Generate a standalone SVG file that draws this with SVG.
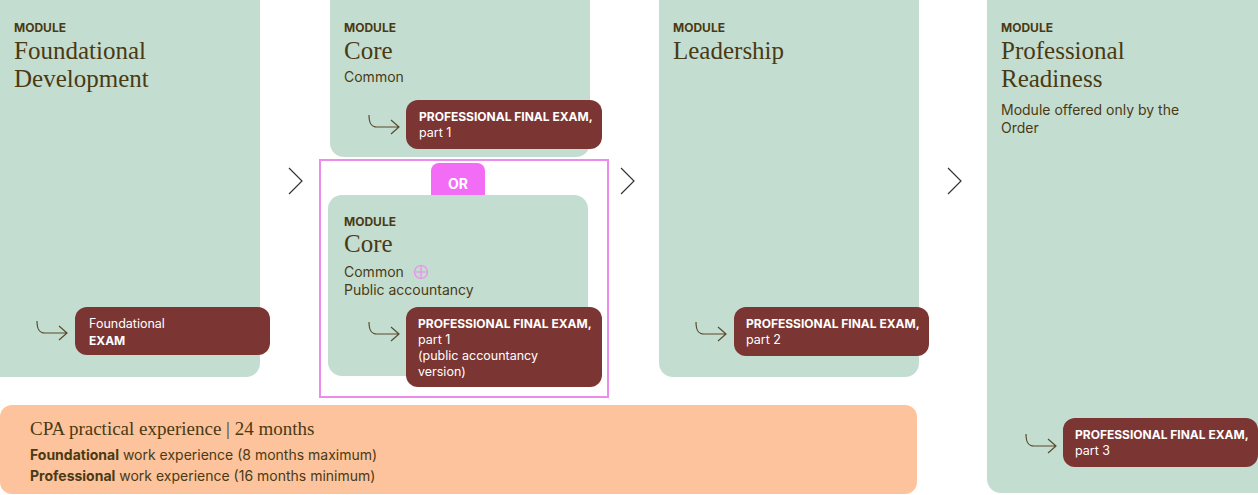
<svg xmlns="http://www.w3.org/2000/svg" width="1258" height="495" viewBox="0 0 1258 495">
<style>
.card{fill:#c4ddd1}
.pill{fill:#7b3533}
.mod{font:700 12px Inter,sans-serif;fill:#4a3a14}
.ttl{font:25px "Liberation Serif",serif;fill:#4a3a14}
.sub{font:14px Inter,sans-serif;fill:#4a3a14}
.pw{font:12.5px Inter,sans-serif;fill:#fff}
.pb{font:700 12px Inter,sans-serif;fill:#fff}
.ar{fill:none;stroke:#5a4a2a;stroke-width:1.2}
.ch{fill:none;stroke:#333;stroke-width:1.2}
</style>
<defs>
<path id="hook" d="M0 0 C0 8 2 12 8 12 H30 M22 5 L30 12 L22 19" class="ar"/>
</defs>
<g id="foundational">
<rect class="card" x="-20" y="-20" width="280" height="397" rx="14"/>
<text class="mod" x="14" y="32">MODULE</text>
<text class="ttl" x="14" y="59">Foundational</text>
<text class="ttl" x="14" y="87">Development</text>
<use href="#hook" x="37" y="321"/>
<rect class="pill" x="75" y="307" width="195" height="48" rx="12"/>
<text class="pw" x="89" y="328">Foundational</text>
<text class="pb" x="89" y="345">EXAM</text>
</g>
<g id="core1">
<rect class="card" x="330" y="-20" width="260" height="177" rx="14"/>
<text class="mod" x="344" y="32">MODULE</text>
<text class="ttl" x="344" y="59">Core</text>
<text class="sub" x="344" y="82">Common</text>
<use href="#hook" x="369" y="115"/>
<rect class="pill" x="406" y="100" width="196" height="49" rx="12"/>
<text class="pb" x="419" y="121">PROFESSIONAL FINAL EXAM,</text>
<text class="pw" x="419" y="137">part 1</text>
</g>
<g id="or-group">
<rect x="320" y="160" width="288" height="237" fill="none" stroke="#ee8cee" stroke-width="2"/>
<rect x="431" y="163" width="54" height="41" rx="8" fill="#f26cf5"/>
<text x="458" y="189" text-anchor="middle" style="font:700 14px Inter,sans-serif;fill:#fff">OR</text>
</g>
<g id="core2">
<rect class="card" x="328" y="195" width="260" height="181" rx="14"/>
<text class="mod" x="344" y="226">MODULE</text>
<text class="ttl" x="344" y="252">Core</text>
<text class="sub" x="344" y="277">Common</text>
<circle cx="421" cy="272" r="6.5" fill="none" stroke="#ee8cee" stroke-width="1.2"/>
<path d="M421 266v12M415 272h12" stroke="#ee8cee" stroke-width="1.2"/>
<text class="sub" x="344" y="295">Public accountancy</text>
<use href="#hook" x="369" y="322"/>
<rect class="pill" x="406" y="307" width="196" height="80" rx="12"/>
<text class="pb" x="418" y="328">PROFESSIONAL FINAL EXAM,</text>
<text class="pw" x="418" y="344">part 1</text>
<text class="pw" x="418" y="360">(public accountancy</text>
<text class="pw" x="418" y="376">version)</text>
</g>
<g id="leadership">
<rect class="card" x="659" y="-20" width="260" height="397" rx="14"/>
<text class="mod" x="673" y="32">MODULE</text>
<text class="ttl" x="673" y="59">Leadership</text>
<use href="#hook" x="696" y="322"/>
<rect class="pill" x="734" y="307" width="195" height="49" rx="12"/>
<text class="pb" x="746" y="328">PROFESSIONAL FINAL EXAM,</text>
<text class="pw" x="746" y="344">part 2</text>
</g>
<g id="readiness">
<rect class="card" x="987" y="-20" width="291" height="513" rx="14"/>
<text class="mod" x="1001" y="32">MODULE</text>
<text class="ttl" x="1001" y="59">Professional</text>
<text class="ttl" x="1001" y="87">Readiness</text>
<text class="sub" x="1001" y="115">Module offered only by the</text>
<text class="sub" x="1001" y="133">Order</text>
<use href="#hook" x="1026" y="434"/>
<rect class="pill" x="1063" y="418" width="195" height="49" rx="12"/>
<text class="pb" x="1075" y="439">PROFESSIONAL FINAL EXAM,</text>
<text class="pw" x="1075" y="455">part 3</text>
</g>
<g id="experience">
<rect x="0" y="405" width="917" height="89" rx="12" fill="#fdc39c"/>
<text x="30" y="435" style="font:19px 'Liberation Serif',serif;fill:#4a3a14">CPA practical experience | 24 months</text>
<text class="sub" x="30" y="460"><tspan font-weight="700">Foundational</tspan> work experience (8 months maximum)</text>
<text class="sub" x="30" y="481"><tspan font-weight="700">Professional</tspan> work experience (16 months minimum)</text>
</g>
<g id="connectors">
<path class="ch" d="M289 168 L302 181 L289 194"/>
<path class="ch" d="M621 168 L634 181 L621 194"/>
<path class="ch" d="M948 168 L961 181 L948 194"/>
</g>
</svg>
